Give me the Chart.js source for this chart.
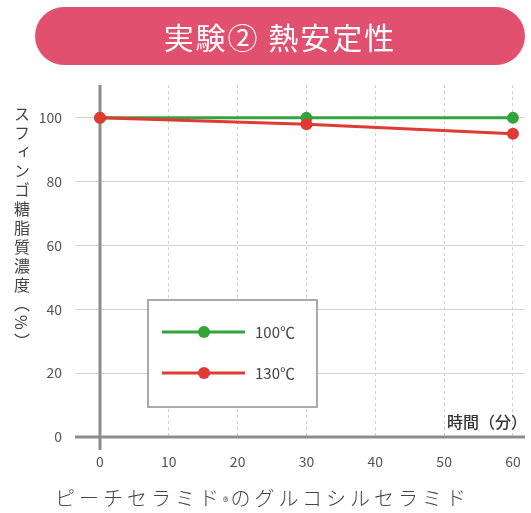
<!DOCTYPE html>
<html>
<head>
<meta charset="utf-8">
<script src="https://cdn.jsdelivr.net/npm/chart.js@4"></script>
<style>
    body { margin: 0; background: #fff; }
    #wrap { position: relative; width: 531px; height: 513px; font-family: "Noto Sans CJK JP", sans-serif; overflow: hidden; }
    #banner {
        position: absolute; left: 35px; top: 7px; width: 490px; height: 58px;
        border-radius: 29px; background: #e1506e; color: #fff;
        font-size: 30px; line-height: 58px; text-align: center; letter-spacing: 2px;
    }
    #yTitle {
        position: absolute; left: 10px; top: 106px;
        writing-mode: vertical-rl; font-size: 16px; letter-spacing: 3px; color: #444;
    }
    #xTitle {
        position: absolute; left: 447px; top: 409px;
        font-size: 16px; font-weight: 500; color: #333; white-space: nowrap;
    }
    #caption {
        position: absolute; left: 55px; top: 483px;
        font-size: 20px; letter-spacing: 4px; color: #444; font-weight: 300;
    }
    canvas { position: absolute; left: 0; top: 0; }
</style>
</head>
<body>
<div id="wrap">
    <canvas id="heatChart" width="531" height="513"></canvas>
    <div id="banner">実験② 熱安定性</div>
    <div id="yTitle">スフィンゴ糖脂質濃度（%）</div>
    <div id="xTitle">時間（分）</div>
    <div id="caption">ピーチセラミド<span style="font-size:12px;letter-spacing:2px">®</span>のグルコシルセラミド</div>
</div>
<script>
// Datos
const minutes = [0, 30, 60];
const temp100 = [100, 100, 100];
const temp130 = [100, 98, 95];
const seriesLabels = ['100℃', '130℃'];
const xTicks = [0, 10, 20, 30, 40, 50, 60];
const yTicks = [0, 20, 40, 60, 80, 100];

const green = '#33a33c';
const red = '#e03a33';

function toPoints(values) {
    return minutes.map((m, i) => ({ x: m, y: values[i] }));
}

// Ejes gruesos en x=0 e y=0
const axisLines = {
    id: 'axisLines',
    beforeDatasetsDraw(chart) {
        const { ctx, chartArea, scales } = chart;
        const x0 = scales.x.getPixelForValue(0);
        const y0 = scales.y.getPixelForValue(0);
        ctx.save();
        ctx.strokeStyle = '#8c8c8c';
        ctx.lineWidth = 3;
        ctx.beginPath();
        ctx.moveTo(chartArea.left, y0);
        ctx.lineTo(chartArea.right, y0);
        ctx.moveTo(x0, chartArea.top);
        ctx.lineTo(x0, y0 + 13);
        ctx.stroke();
        ctx.restore();
    }
};

// Leyenda en recuadro
const boxLegend = {
    id: 'boxLegend',
    afterDraw(chart) {
        const ctx = chart.ctx;
        ctx.save();
        ctx.fillStyle = '#fff';
        ctx.fillRect(148, 300, 169, 107);
        ctx.strokeStyle = '#aaa';
        ctx.lineWidth = 2;
        ctx.strokeRect(148, 300, 169, 107);
        const rows = [332, 373];
        [green, red].forEach((color, i) => {
            const y = rows[i];
            ctx.strokeStyle = color;
            ctx.lineWidth = 3;
            ctx.beginPath();
            ctx.moveTo(162, y);
            ctx.lineTo(245, y);
            ctx.stroke();
            ctx.fillStyle = color;
            ctx.beginPath();
            ctx.arc(204, y, 6, 0, Math.PI * 2);
            ctx.fill();
            ctx.fillStyle = '#444';
            ctx.font = '15px "Noto Sans CJK JP"';
            ctx.textBaseline = 'middle';
            ctx.fillText(seriesLabels[i], 255, y);
        });
        ctx.restore();
    }
};

const ctx = document.getElementById('heatChart').getContext('2d');
const heatChart = new Chart(ctx, {
    type: 'line',
    data: {
        datasets: [
            {
                label: seriesLabels[0],
                data: toPoints(temp100),
                borderColor: green,
                backgroundColor: green,
                borderWidth: 3,
                pointRadius: 6,
                pointBorderWidth: 0,
                order: 1
            },
            {
                label: seriesLabels[1],
                data: toPoints(temp130),
                borderColor: red,
                backgroundColor: red,
                borderWidth: 3,
                pointRadius: 6,
                pointBorderWidth: 0,
                order: 0
            }
        ]
    },
    options: {
        responsive: false,
        animation: false,
        layout: { padding: { top: 85, right: 6, bottom: 46, left: 0 } },
        scales: {
            x: {
                type: 'linear',
                min: -3.63,
                max: 61.75,
                afterBuildTicks: s => { s.ticks = xTicks.map(v => ({ value: v })); },
                afterFit: s => { s.height = 30; s.paddingLeft = 0; s.paddingRight = 0; },
                grid: { color: '#cfcfcf', drawTicks: false },
                border: { display: false, dash: [3, 3] },
                ticks: { padding: 16, color: '#555', font: { size: 14, family: '"Noto Sans CJK JP"' } }
            },
            y: {
                min: 0,
                max: 110.3,
                afterBuildTicks: s => { s.ticks = yTicks.map(v => ({ value: v })); },
                afterFit: s => { s.width = 75; s.paddingTop = 0; s.paddingBottom = 0; },
                grid: { color: '#d4d4d4', drawTicks: false },
                border: { display: false },
                ticks: { padding: 13, color: '#555', font: { size: 14, family: '"Noto Sans CJK JP"' } }
            }
        },
        plugins: {
            legend: { display: false },
            tooltip: { enabled: false }
        }
    },
    plugins: [axisLines, boxLegend]
});
</script>
</body>
</html>
